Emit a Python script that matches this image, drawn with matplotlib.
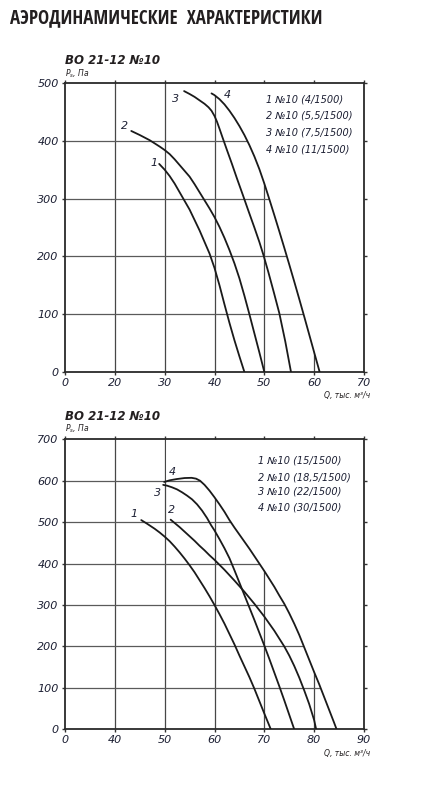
import numpy as np
import matplotlib
matplotlib.use("Agg")
import matplotlib.pyplot as plt
from matplotlib.patches import Polygon

TXT = "#231f20"
NUM = "#1c1f33"

# ---------------- data: top chart (Q, thousand m3/h ; Ps, Pa) ----------------
top_xticks = [0, 20, 30, 40, 50, 60, 70]
top_yticks = [0, 100, 200, 300, 400, 500]

t1_q = [28.9, 30, 31, 32, 33, 34, 35, 36, 37, 38, 39, 40, 41, 42, 43, 44, 45, 46.0]
t1_p = [360, 350, 339, 326, 311, 296, 281, 263, 245, 225, 205, 180, 150, 117, 85, 55, 27, 0]
t2_q = [23.3, 25, 27, 29, 30, 31, 32, 33, 34, 35, 36, 37, 38, 39, 40, 41, 42, 43, 44, 45, 46, 47, 48, 49, 50.0]
t2_p = [417, 410, 401, 390, 384, 377, 368, 358, 348, 338, 325, 311, 297, 283, 268, 251, 232, 211, 188, 162, 132, 100, 67, 34, 0]
t3_q = [33.9, 35, 36, 37, 38, 38.8, 39.4, 40, 40.5, 41, 41.6, 42.5, 43.5, 44.5, 45.7, 46.8, 48, 49, 49.8, 50.8, 51.9, 53.0, 54.2, 55.35]
t3_p = [486, 481, 476, 470, 464, 458, 452, 443, 433, 421, 406, 384, 360, 335, 306, 279, 250, 225, 203, 173, 138, 102, 53, 0]
t4_q = [39.4, 40, 41, 42, 43, 44, 45, 46, 47, 48, 49, 50, 51, 52, 53, 54, 55, 56, 57, 58, 59, 60, 61.1]
t4_p = [482, 479, 472, 463, 452, 439.5, 425.5, 410, 392.5, 373, 351, 326, 299, 271.5, 243.5, 215, 186, 156.5, 126.5, 96, 65, 34, 0]
top_curves = [(t1_q, t1_p), (t2_q, t2_p), (t3_q, t3_p), (t4_q, t4_p)]
top_numbers = ["1", "2", "3", "4"]
top_number_xy = [(27.9, 362), (22.0, 425), (32.2, 473), (42.5, 480)]
top_legend = ["1 №10 (4/1500)", "2 №10 (5,5/1500)", "3 №10 (7,5/1500)", "4 №10 (11/1500)"]

# ---------------- data: bottom chart ----------------
bot_xticks = [0, 40, 50, 60, 70, 80, 90]
bot_yticks = [0, 100, 200, 300, 400, 500, 600, 700]

b1_q = [45.3, 46.5, 48, 49, 50, 51, 52, 53, 54, 55, 56, 57, 58, 59, 60, 61, 62, 63, 64, 65, 66, 67, 68, 69, 70, 71.3]
b1_p = [505, 496, 484, 475, 465, 454, 441, 427, 412, 396, 379, 360, 341, 321, 300, 278, 255, 230, 205, 178, 152, 126, 98, 68, 38, 0]
b2_q = [51.2, 52, 53, 54, 55, 56, 57, 58, 59, 60, 62, 64, 66, 68, 70, 72, 74, 75, 76, 77, 78, 79, 80, 80.4]
b2_p = [506, 498, 488, 477, 466, 455, 443, 432, 420, 409, 385, 359, 332, 303, 272, 238, 200, 178, 153, 125, 94, 61, 22, 0]
b3_q = [49.7, 50.5, 51.5, 52.5, 53.5, 54.5, 55.5, 56.5, 57.5, 58.5, 59.3, 60, 61, 62, 63, 64, 65, 66, 67, 68, 69, 70, 71, 72, 73, 74, 75, 76.0]
b3_p = [590, 588, 584, 579, 572, 564, 555, 543, 528, 510, 493, 480, 459, 437, 413, 384, 354, 324, 294, 264, 233, 202, 170, 137, 104, 70, 35, 0]
b4_q = [49.9, 51, 52.4, 54, 55.4, 56.3, 57.1, 58, 59, 60, 61, 62, 63, 64, 65, 66, 67, 68, 69, 70, 71, 72, 73, 74, 75, 76, 77, 78, 79, 80, 81, 82, 83, 84, 84.5]
b4_p = [597, 601, 604, 606.5, 607, 605, 600, 590, 576, 560, 543, 525, 505, 487, 470, 453, 436, 418, 400, 382, 363, 344, 323, 303, 280, 255, 228, 198, 168, 138, 109, 78, 47, 16, 0]
bot_curves = [(b1_q, b1_p), (b2_q, b2_p), (b3_q, b3_p), (b4_q, b4_p)]
bot_numbers = ["1", "2", "3", "4"]
bot_number_xy = [(43.9, 520), (51.3, 529), (48.6, 571), (51.5, 622)]
bot_legend = ["1 №10 (15/1500)", "2 №10 (18,5/1500)", "3 №10 (22/1500)", "4 №10 (30/1500)"]

main_title = "АЭРОДИНАМИЧЕСКИЕ  ХАРАКТЕРИСТИКИ"
chart_title = "ВО 21-12 №10"
y_label = r"$P_s$, Па"
x_label = "Q, тыс. м³/ч"

plt.rcParams['font.family'] = ['DejaVu Sans']
plt.rcParams['mathtext.fontset'] = 'dejavusans'

fig = plt.figure(figsize=(4.23, 8.0), dpi=100)


def draw_chart(rect, xticks, yticks, curves, numbers, number_xy, legend,
               legend_x, legend_y, grid_open_until):
    ax = fig.add_axes(rect)
    pos = np.arange(len(xticks), dtype=float)
    tv = np.array(xticks, dtype=float)
    ax.set_xscale('function', functions=(lambda x: np.interp(x, tv, pos),
                                         lambda p: np.interp(p, pos, tv)))
    ax.set_xlim(xticks[0], xticks[-1])
    ax.set_ylim(yticks[0], yticks[-1])
    ax.set_xticks(xticks)
    ax.set_xticklabels([str(v) for v in xticks])
    ax.set_yticks(yticks)
    ax.set_yticklabels([str(v) for v in yticks])
    ax.xaxis.set_minor_locator(matplotlib.ticker.NullLocator())
    ax.tick_params(axis='both', direction='out', length=2.5, width=1.0,
                   color='#333333', labelsize=8, labelcolor=NUM,
                   top=True, right=True)
    ax.tick_params(axis='x', pad=1.5)
    ax.tick_params(axis='y', pad=2)
    for lab in ax.get_xticklabels() + ax.get_yticklabels():
        lab.set_fontstyle('italic')
    for sp in ax.spines.values():
        sp.set_color('#2a2a2a')
        sp.set_linewidth(1.3)

    # grid is clipped to the left open area plus the area beneath the outermost curve
    q4, p4 = curves[-1]
    ymax = yticks[-1]
    k = next(i for i, q in enumerate(q4) if q >= grid_open_until)
    verts = [(xticks[0], 0), (xticks[0], ymax), (grid_open_until, ymax),
             (grid_open_until, p4[k])] + list(zip(q4[k:], p4[k:])) + [(q4[-1], 0)]
    clip = Polygon(verts, closed=True, transform=ax.transData,
                   facecolor='none', edgecolor='none')
    ax.add_patch(clip)
    for xv in xticks[1:-1]:
        ln = ax.axvline(xv, color='#474747', lw=0.9, zorder=1)
        ln.set_clip_path(clip)
    for yv in yticks[1:-1]:
        ln = ax.axhline(yv, color='#5a5a5a', lw=0.9, zorder=1)
        ln.set_clip_path(clip)

    for (q, p) in curves:
        ax.plot(q, p, color='#1a1a1a', lw=1.3, zorder=3,
                solid_capstyle='round', solid_joinstyle='round')
    for n, (qx, py) in zip(numbers, number_xy):
        ax.text(qx, py, n, fontsize=8, fontstyle='italic', color=NUM,
                ha='center', va='center', zorder=4)
    for i, t in enumerate(legend):
        ax.text(legend_x, legend_y[i], t, fontsize=7, fontstyle='italic',
                color=NUM, ha='left', va='center', zorder=4)
    ax.text(1.02, -0.083, x_label, transform=ax.transAxes, fontsize=5.5,
            fontstyle='italic', color=TXT, ha='right', va='center')
    return ax


W, H = 423.0, 800.0
r_top = [65 / W, 1 - 372 / H, (364 - 65) / W, (372 - 83) / H]
r_bot = [65 / W, 1 - 729.3 / H, (364 - 65) / W, (729.3 - 439.3) / H]

draw_chart(r_top, top_xticks, top_yticks, top_curves, top_numbers, top_number_xy,
           top_legend, 50.3, [472, 443, 415, 385], t4_q[0])
draw_chart(r_bot, bot_xticks, bot_yticks, bot_curves, bot_numbers, bot_number_xy,
           bot_legend, 68.7, [648, 608, 574, 535], 50.3)

title = fig.text(10 / W, 1 - 18 / H, main_title, fontsize=13, fontweight='heavy',
                 fontstretch='condensed',
                 family=['Open Sans Condensed', 'Roboto Condensed',
                         'Liberation Sans Narrow', 'DejaVu Sans Condensed',
                         'Roboto', 'DejaVu Sans'],
                 color=TXT, ha='left', va='center')
# fit the heading to the width it has in the reference (about 310 px)
fig.canvas.draw()
wpx = title.get_window_extent(renderer=fig.canvas.get_renderer()).width
if wpx > 0:
    title.set_fontsize(13 * 310.0 / wpx)

for yc, ylab in [(61, 73.3), (417, 429)]:
    fig.text(65 / W, 1 - yc / H, chart_title, fontsize=8.5, fontweight='bold',
             fontstyle='italic', color=TXT, ha='left', va='center')
    fig.text(65 / W, 1 - ylab / H, y_label, fontsize=5.5, fontstyle='italic',
             color=TXT, ha='left', va='center')

fig.savefig("out.png", dpi=100, facecolor='white')
